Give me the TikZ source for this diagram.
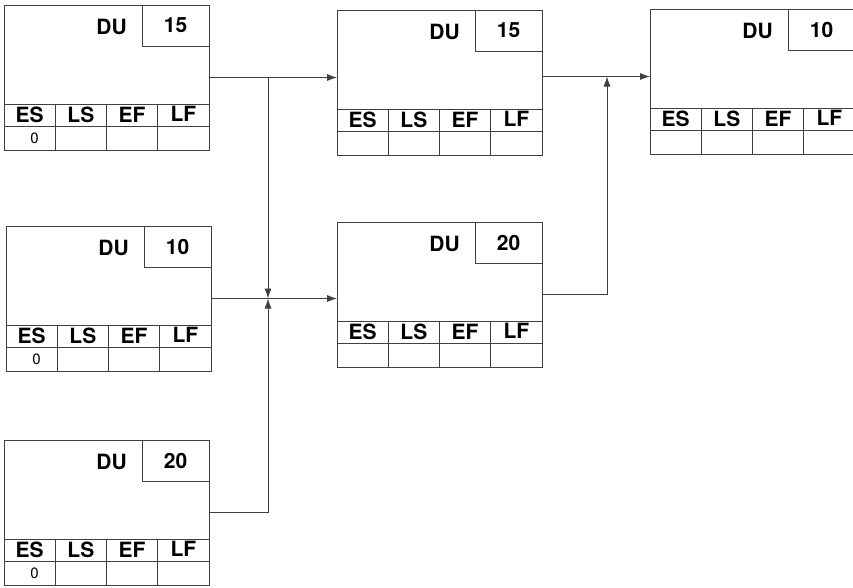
\documentclass[tikz,border=0pt]{standalone}
\usepackage{fontspec}
\setmainfont{TeX Gyre Heros}
\usetikzlibrary{positioning,arrows.meta}

% one activity box: name, top-left corner, duration, early start
\newcommand{\pertbox}[4]{%
  \node[actbox, anchor=north west] (#1) at #2 {};
  \node[ducell, anchor=north east] (#1-du) at (#1.north east) {#3};
  \node[dulabel, anchor=east] at ([xshift=-15pt,yshift=-1pt]#1-du.west) {DU};
  \node[headcell, anchor=north west] (#1-es) at ([yshift=-99pt]#1.north west) {\raisebox{1pt}{ES}};
  \node[headcell, right=0pt of #1-es] (#1-ls) {\raisebox{-2pt}{LS}};
  \node[headcell, right=0pt of #1-ls] (#1-ef) {\raisebox{-2pt}{EF}};
  \node[headcell, right=0pt of #1-ef] (#1-lf) {\raisebox{2pt}{LF}};
  \node[valcell, below=0pt of #1-es] (#1-esv) {\hspace{10pt}#4};
  \node[valcell, below=0pt of #1-ls] (#1-lsv) {};
  \node[valcell, below=0pt of #1-ef] (#1-efv) {};
  \node[valcell, below=0pt of #1-lf] (#1-lfv) {};
}

\begin{document}
\begin{tikzpicture}[x=1pt, y=-1pt]
  \tikzset{
    actbox/.style={rectangle, draw=black!75, line width=0.8pt, minimum width=205pt, minimum height=145pt, inner sep=0pt, outer sep=0pt},
    ducell/.style={rectangle, draw=black!75, line width=0.8pt, minimum width=67pt, minimum height=41pt, inner sep=0pt, outer sep=0pt, font=\fontsize{21}{24}\selectfont\bfseries},
    dulabel/.style={inner sep=0pt, font=\fontsize{21}{24}\selectfont\bfseries},
    headcell/.style={rectangle, draw=black!75, line width=0.8pt, minimum width=51.25pt, minimum height=22pt, inner sep=0pt, outer sep=0pt, font=\fontsize{21}{24}\selectfont\bfseries},
    valcell/.style={rectangle, draw=black!75, line width=0.8pt, minimum width=51.25pt, minimum height=24pt, inner sep=0pt, outer sep=0pt, font=\fontsize{15}{17}\selectfont},
    link/.style={line width=0.8pt, draw=black!75, -{Latex[length=10pt,width=7pt]}},
  }
  \useasboundingbox (0,0) rectangle (853,587);

  \pertbox{taskA}{(4,5)}{15}{0}
  \pertbox{taskB}{(6,226)}{10}{0}
  \pertbox{taskC}{(4,440)}{20}{0}
  \pertbox{taskD}{(337,10)}{15}{}
  \pertbox{taskE}{(337,222)}{20}{}
  \pertbox{taskF}{(650,9)}{10}{}

  \coordinate (merge) at ([xshift=57pt]taskB.east);
  \coordinate (dout) at ([yshift=6pt]taskD.east);
  \coordinate (rise) at ([xshift=65pt]taskE.east);

  %Draw arrows
  \draw[link] (taskA.east) -- (taskA.east -| taskD.west);
  \draw[link] (merge |- taskA.east) -- (merge);
  \draw[link] (taskC.east) -| (merge);
  \draw[link] (taskB.east) -- (taskB.east -| taskE.west);
  \draw[link] (dout) -- (dout -| taskF.west);
  \draw[link] (taskE.east) -| (rise |- dout);
\end{tikzpicture}
\end{document}
